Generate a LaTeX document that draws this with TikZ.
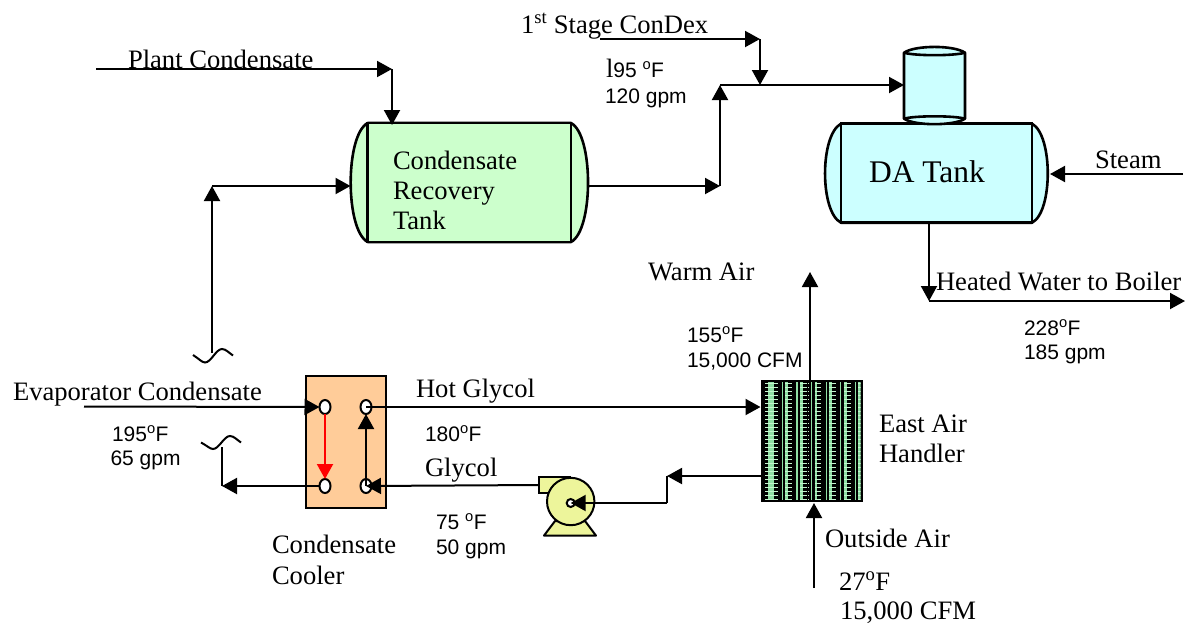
\documentclass[tikz,border=0pt]{standalone}
\usepackage{fontspec}
\setmainfont{Liberation Serif}
\newfontfamily\arialf{Liberation Sans}
\usetikzlibrary{arrows.meta,shapes.geometric}
\definecolor{greentank}{HTML}{CCFFCC}
\definecolor{bluetank}{HTML}{CCFFFF}
\definecolor{hxfill}{HTML}{FFCC99}
\definecolor{pumpfill}{HTML}{EDF59B}
\definecolor{finlight}{HTML}{C4F5CE}
\definecolor{finmid}{HTML}{8FE0A4}
\newcommand{\dgr}{\textsuperscript{o}}
\tikzset{
  every node/.style={inner sep=0pt,outer sep=0pt},
  ser/.style={anchor=base west,font=\fontsize{26.6}{30}\selectfont},
  ari/.style={anchor=base west,font=\arialf\fontsize{21}{24}\selectfont},
  pipe/.style={line width=2pt},
  flow/.style={line width=2pt,-{Triangle[length=15pt,width=16pt]}},
  tankline/.style={line width=2.6pt,line join=round},
  port/.style={draw,line width=2pt,fill=white,ellipse,minimum width=11pt,minimum height=14pt},
  body/.style={draw,line width=2.6pt,minimum width=0pt},
}
\begin{document}
\begin{tikzpicture}[x=1pt,y=-1pt]
\useasboundingbox (0,0) rectangle (1185,625);
% --- Condensate recovery tank
\filldraw[tankline,fill=greentank] (367.7,123) .. controls (345,135) and (345,230) .. (367.7,242) -- (571,242) .. controls (593.7,230) and (593.7,135) .. (571,123) -- cycle;
\node[body,fill=greentank,minimum width=203.3pt,minimum height=119pt] (crt) at (469.35,182.5) {};
% --- DA tank and dome
\filldraw[tankline,fill=bluetank] (841,123.7) .. controls (819.7,135) and (819.7,212) .. (841,222.7) -- (1032,222.7) .. controls (1053,212) and (1053,135) .. (1032,123.7) -- cycle;
\node[body,fill=bluetank,minimum width=191pt,minimum height=99pt] (da) at (936.5,173.2) {};
\filldraw[tankline,fill=bluetank] (904,52.7) .. controls (915,45) and (954,45) .. (965,52.7) -- (965,118.7) .. controls (954,126) and (915,126) .. (904,118.7) -- cycle;
\draw[tankline] (904,52.7) .. controls (915,56) and (954,56) .. (965,52.7);
\draw[tankline] (904,118.7) .. controls (915,115.5) and (954,115.5) .. (965,118.7);
\coordinate (domeW) at (904,85);
% --- Condensate cooler
\node[draw,line width=2pt,fill=hxfill,minimum width=79.7pt,minimum height=131.7pt] (hx) at (345.85,441.85) {};
\node[port] (p1) at (325,407) {};
\node[port] (p2) at (366,407) {};
\node[port] (p3) at (325,486) {};
\node[port] (p4) at (366,486) {};
% --- Air handler
\node[fill=black,minimum width=100pt,minimum height=120.3pt] (ah) at (811.7,440.85) {};
\begin{scope}
\clip (763,382) rectangle (860.5,499.7);
\foreach \i in {0,...,6} {
  \fill[finmid] ({767.5+14.6*\i},382) rectangle ({773.5+14.6*\i},500);
}
\foreach \r in {0,...,29} {
  \draw[finlight,line width=1.4pt] (763,{383.5+4*\r}) -- (861,{383.5+4*\r});
}
\foreach \i in {0,...,6} {
  \fill[black] ({779.3+14.6*\i},382) rectangle ({785.3+14.6*\i},500);
  \fill[finmid] ({781.7+14.6*\i},382) rectangle ({782.9+14.6*\i},500);
  \fill[black] ({763+14.6*\i},382) rectangle ({764.6+14.6*\i},500);
}
\end{scope}
\draw[line width=2pt] (ah.north west) rectangle (ah.south east);
% --- Pump
\coordinate (pumpout) at (539,485);
\filldraw[line width=2pt,fill=pumpfill,line join=round] (555,521) -- (544,535.6) -- (596,535.6) -- (585,521) -- cycle;
\filldraw[line width=2pt,fill=pumpfill] (539,477) rectangle (570,493);
\node[circle,draw,line width=2pt,fill=pumpfill,minimum size=47.4pt] (pump) at (570.7,501.5) {};
\node[circle,draw,line width=2pt,fill=white,minimum size=8pt] (eye) at (570.7,503) {};
% --- Free ends and bends
\coordinate (plantS) at (96,69);
\coordinate (plantB) at (392,69);
\coordinate (plantE) at (392,125);
\coordinate (stageS) at (600,39);
\coordinate (stageB) at (760,39);
\coordinate (stageE) at (760,85);
\coordinate (crtOut) at (588.5,186);
\coordinate (riseB) at (720,186);
\coordinate (riseT) at (720,85);
\coordinate (steamS) at (1183,174);
\coordinate (steamE) at (1050,174);
\coordinate (daOut) at (929,222.7);
\coordinate (htrB) at (929,301);
\coordinate (htrE) at (1185,301);
\coordinate (warmS) at (810,380.7);
\coordinate (warmE) at (810,272);
\coordinate (coolS) at (212,353);
\coordinate (coolB) at (212,186);
\coordinate (coolE) at (350.5,186);
\coordinate (evapS) at (84,406.5);
\coordinate (retS) at (222,447);
\coordinate (retB) at (222,486);
\coordinate (airS) at (814,588);
\coordinate (airE) at (814,503);
\coordinate (ahOut) at (761.7,476);
\coordinate (elbowT) at (667,476);
\coordinate (elbowB) at (667,503);
\coordinate (ahIn) at (760.5,407);
% --- Connectors
\draw[flow] (plantS) -- (plantB);
\draw[flow] (plantB) -- (plantE);
\draw[flow] (stageS) -- (stageB);
\draw[flow] (stageB) -- (stageE);
\draw[flow] (crtOut) -- (riseB);
\draw[flow] (riseB) -- (riseT);
\draw[flow] (riseT) -- (domeW);
\draw[flow] (steamS) -- (steamE);
\draw[flow] (daOut) -- (htrB);
\draw[flow] (htrB) -- (htrE);
\draw[flow] (warmS) -- (warmE);
\draw[flow] (coolS) -- (coolB);
\draw[flow] (coolB) -- (coolE);
\draw[flow] (evapS) -- (p1.west);
\draw[flow,red] (p1.south) -- (p3.north);
\draw[flow] (p4.center) -- (p2.south);
\draw[flow] (p2.center) -- (ahIn);
\draw[flow] (p3.west) -- (retB);
\draw[pipe] (retS) -- (retB);
\draw[flow] (pumpout) -- (p4.center);
\draw[flow] (ahOut) -- (elbowT);
\draw[pipe] (elbowT) -- (elbowB);
\draw[flow] (elbowB) -- (eye.center);
\draw[flow] (airS) -- (airE);
% --- Pipe breaks
\draw[line width=2pt] (193,355) .. controls (198,358) and (202,362.5) .. (205,362.5) .. controls (211,362.5) and (216,349) .. (222,349) .. controls (226,349) and (229,353) .. (233,355.5);
\draw[line width=2pt] (201,442.5) .. controls (206,445) and (210,449) .. (213,449) .. controls (219,449) and (224,436) .. (230,436) .. controls (234,436) and (237,440) .. (241,442.5);
% --- Labels
\node[ser] (t1) at (128,68) {Plant Condensate};
\node[ser] (t2) at (521,33) {1\textsuperscript{st} Stage ConDex};
\node[ari] (t3) at (606,77) {{\fontsize{26.5}{30}\rmfamily l}95 \dgr F};
\node[ari] (t4) at (605,103) {120 gpm};
\node[ser] (t5) at (393,169) {Condensate};
\node[ser] (t6) at (393,199) {Recovery};
\node[ser] (t7) at (393,229) {Tank};
\node[ser,font=\fontsize{31.5}{34}\selectfont] (t8) at (869,182) {DA Tank};
\node[ser] (t9) at (1095,168) {Steam};
\node[ser] (t10) at (648,280) {Warm Air};
\node[ser] (t11) at (936,290) {Heated Water to Boiler};
\node[ari] (t12) at (687,342) {155\dgr F};
\node[ari] (t13) at (687,367) {15,000 CFM};
\node[ari] (t14) at (1024,335) {228\dgr F};
\node[ari] (t15) at (1024,359) {185 gpm};
\node[ser] (t16) at (13,400) {Evaporator Condensate};
\node[ari] (t17) at (112,441) {195\dgr F};
\node[ari] (t18) at (110.5,465) {65 gpm};
\node[ser] (t19) at (272,553) {Condensate};
\node[ser] (t20) at (272,584) {Cooler};
\node[ser] (t21) at (416,397) {Hot Glycol};
\node[ari] (t22) at (425,441) {180\dgr F};
\node[ser] (t23) at (425,476) {Glycol};
\node[ari] (t24) at (436,529) {75 \dgr F};
\node[ari] (t25) at (436,554) {50 gpm};
\node[ser] (t26) at (879,432) {East Air};
\node[ser] (t27) at (879,462) {Handler};
\node[ser] (t28) at (825,547) {Outside Air};
\node[ser] (t29) at (839,590) {27\dgr F};
\node[ser] (t30) at (840,619) {15,000 CFM};
\end{tikzpicture}
\end{document}
